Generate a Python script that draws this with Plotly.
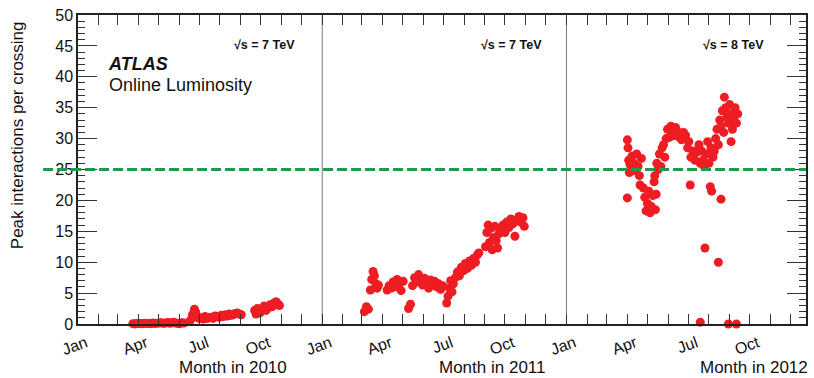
import plotly.graph_objects as go

# Peak pile-up per bunch crossing, ATLAS online luminosity, 2010-2012
dates_2010 = [
    "2010-03-24", "2010-03-27", "2010-03-30", "2010-04-02", "2010-04-05", "2010-04-08",
    "2010-04-11", "2010-04-14", "2010-04-17", "2010-04-20", "2010-04-23", "2010-04-26",
    "2010-04-29", "2010-05-03", "2010-05-06", "2010-05-09", "2010-05-12", "2010-05-15",
    "2010-05-18", "2010-05-21", "2010-05-24", "2010-05-27", "2010-05-30", "2010-06-02",
    "2010-06-05", "2010-06-08",
    "2010-06-18", "2010-06-21", "2010-06-24", "2010-06-26", "2010-06-28", "2010-07-01",
    "2010-07-04", "2010-07-07", "2010-07-10", "2010-07-13", "2010-07-16", "2010-07-19",
    "2010-07-22", "2010-07-25", "2010-07-28", "2010-07-31", "2010-08-03", "2010-08-06",
    "2010-08-09", "2010-08-12", "2010-08-15", "2010-08-18", "2010-08-21", "2010-08-24",
    "2010-08-27", "2010-08-30", "2010-09-02",
    "2010-09-22", "2010-09-24", "2010-09-26", "2010-09-28", "2010-09-30", "2010-10-03",
    "2010-10-06", "2010-10-09", "2010-10-12", "2010-10-15", "2010-10-18", "2010-10-21",
    "2010-10-24", "2010-10-27", "2010-10-29",
]
peak_2010 = [
    0.05, 0.02, 0.08, 0.05, 0.10, 0.05,
    0.12, 0.08, 0.10, 0.06, 0.15, 0.10,
    0.12, 0.15, 0.20, 0.10, 0.18, 0.25,
    0.12, 0.20, 0.30, 0.15, 0.10, 0.05,
    0.20, 0.15,
    0.6, 1.5, 2.4, 1.9, 1.1, 0.9,
    1.0, 0.8, 1.2, 0.9, 1.0, 1.1,
    0.9, 1.3, 1.2, 1.1, 1.4, 1.2,
    1.5, 1.3, 1.6, 1.4, 1.5, 1.7,
    1.8, 1.6, 1.5,
    2.2, 1.6, 2.5, 2.0, 1.8, 2.4,
    2.9, 2.2, 2.6, 3.1, 2.8, 3.4,
    3.6, 3.2, 3.0,
]

dates_2011 = [
    "2011-03-05", "2011-03-08", "2011-03-11",
    "2011-03-14", "2011-03-16", "2011-03-18", "2011-03-20", "2011-03-22", "2011-03-24",
    "2011-03-26",
    "2011-04-08", "2011-04-11", "2011-04-14", "2011-04-17", "2011-04-20", "2011-04-23",
    "2011-04-26", "2011-04-29", "2011-05-02",
    "2011-05-10", "2011-05-13",
    "2011-05-16", "2011-05-19", "2011-05-22", "2011-05-25", "2011-05-28", "2011-05-31",
    "2011-06-03", "2011-06-06", "2011-06-09", "2011-06-12", "2011-06-15", "2011-06-18",
    "2011-06-21", "2011-06-24", "2011-06-27", "2011-06-30",
    "2011-07-06", "2011-07-08", "2011-07-10", "2011-07-12", "2011-07-14", "2011-07-16",
    "2011-07-19", "2011-07-22", "2011-07-25", "2011-07-28", "2011-07-31", "2011-08-03",
    "2011-08-06", "2011-08-09", "2011-08-12", "2011-08-15", "2011-08-18", "2011-08-21",
    "2011-08-23",
    "2011-09-02", "2011-09-04", "2011-09-06", "2011-09-08", "2011-09-10", "2011-09-12",
    "2011-09-14", "2011-09-16", "2011-09-18", "2011-09-20", "2011-09-22",
    "2011-09-25", "2011-09-28", "2011-10-01", "2011-10-04", "2011-10-07", "2011-10-10",
    "2011-10-13", "2011-10-16", "2011-10-19", "2011-10-22", "2011-10-25", "2011-10-28",
    "2011-10-30",
]
peak_2011 = [
    2.0, 2.8, 2.4,
    5.5, 7.2, 8.5, 7.8, 6.5, 5.8,
    6.3,
    5.5, 6.2, 5.8, 6.8, 6.0, 7.2,
    6.5, 5.4, 6.9,
    2.5, 3.2,
    6.2, 7.5, 6.8, 8.0, 7.0, 6.3,
    7.4, 6.6, 5.8, 7.1, 6.4, 6.9,
    6.0, 6.5, 5.6, 6.2,
    3.4, 4.5, 5.8, 7.0, 5.2, 6.5,
    7.5, 8.4, 7.8, 9.2, 8.6, 9.8,
    9.0, 10.2, 9.5, 10.6, 10.0, 11.2,
    11.5,
    12.5, 14.8, 16.0, 13.2, 15.5, 12.0,
    14.0, 15.8, 13.5, 12.3, 14.6,
    15.2, 16.0, 14.8, 16.5, 15.6, 17.0,
    16.2, 14.2, 16.8, 17.4, 16.5, 17.2,
    15.8,
]

dates_2012 = [
    "2012-04-01", "2012-04-02", "2012-04-01", "2012-04-03", "2012-04-04", "2012-04-05",
    "2012-04-08", "2012-04-11", "2012-04-13", "2012-04-15", "2012-04-17", "2012-04-19",
    "2012-04-20", "2012-04-22", "2012-04-25", "2012-04-27", "2012-04-29", "2012-05-01",
    "2012-05-03", "2012-05-05", "2012-05-07", "2012-05-09", "2012-05-11", "2012-05-13",
    "2012-05-14", "2012-05-12", "2012-05-15", "2012-05-17", "2012-05-19", "2012-05-21",
    "2012-05-23", "2012-05-25", "2012-05-27", "2012-05-29", "2012-05-31", "2012-06-03",
    "2012-06-05", "2012-06-08", "2012-06-10", "2012-06-12", "2012-06-15", "2012-06-18",
    "2012-06-21", "2012-06-24", "2012-06-27", "2012-06-30", "2012-07-02", "2012-07-04",
    "2012-07-05", "2012-07-08", "2012-07-11", "2012-07-14", "2012-07-17", "2012-07-19",
    "2012-07-19", "2012-07-21", "2012-07-23", "2012-07-25", "2012-07-26", "2012-07-28",
    "2012-07-30", "2012-08-01", "2012-08-03", "2012-08-04", "2012-08-05", "2012-08-07",
    "2012-08-09", "2012-08-11", "2012-08-13", "2012-08-15", "2012-08-15", "2012-08-17",
    "2012-08-19", "2012-08-19", "2012-08-21", "2012-08-23", "2012-08-24", "2012-08-26",
    "2012-08-28", "2012-08-30", "2012-08-30", "2012-09-01", "2012-09-03", "2012-09-03",
    "2012-09-05", "2012-09-07", "2012-09-09", "2012-09-11", "2012-09-11", "2012-09-13",
]
peak_2012 = [
    29.8, 28.5, 20.4, 26.5, 24.5, 25.8,
    27.2, 26.0, 24.8, 27.5, 25.5, 24.0,
    22.5, 26.8, 22.0, 20.5, 18.3, 19.5,
    21.5, 18.0, 19.0, 20.8, 23.0, 18.5,
    21.0, 24.0, 26.0, 25.0, 27.5, 25.5,
    28.5, 29.0, 27.0, 30.0, 31.5, 30.2,
    32.0, 31.0, 30.5, 31.8, 31.2, 30.2,
    29.8, 31.0, 30.5, 28.5, 29.5, 22.5,
    27.0, 28.0, 26.5, 27.8, 29.0, 26.0,
    0.3, 28.0, 26.5, 25.5, 12.3, 27.5,
    29.5, 26.0, 22.2, 28.5, 21.5, 27.0,
    28.0, 30.0, 31.5, 10.0, 29.0, 33.0,
    20.2, 32.0, 34.5, 31.0, 36.7, 35.0,
    33.5, 0.0, 32.5, 35.5, 29.5, 34.0,
    31.5, 33.0, 35.0, 0.0, 32.5, 34.0,
]

energies = ["7", "7", "8"]
year_starts = ["2011-01-01", "2012-01-01"]
design_mu = 25

FONT = "Liberation Sans, Arial, sans-serif"
RED = "#ee1c23"
GREEN = "#1f9a4b"

fig = go.Figure()
for dates, peak in [(dates_2010, peak_2010), (dates_2011, peak_2011), (dates_2012, peak_2012)]:
    fig.add_trace(go.Scatter(
        x=dates, y=peak, mode="markers",
        marker=dict(color=RED, size=9, line=dict(width=0)),
        cliponaxis=False, showlegend=False,
    ))

# year separators
for ys in year_starts:
    fig.add_shape(type="line", xref="x", yref="paper", x0=ys, x1=ys, y0=0, y1=1,
                  line=dict(color="#7a7a7a", width=1), layer="below")

# design pile-up reference line
fig.add_shape(type="line", xref="paper", yref="y", x0=-0.048, x1=1.0,
              y0=design_mu, y1=design_mu,
              line=dict(color=GREEN, width=3, dash="10px,4px"), layer="above")

annotations = [
    dict(text="<b><i>ATLAS</i></b>", x=0.039, y=0.843, xanchor="left", yanchor="middle",
         font=dict(size=18, color="#111")),
    dict(text="Online Luminosity", x=0.040, y=0.772, xanchor="left", yanchor="middle",
         font=dict(size=18, color="#111")),
    dict(text="Peak interactions per crossing", x=-0.082, y=0.612, textangle=-90,
         xanchor="center", yanchor="middle", font=dict(size=17, color="#111")),
]
for xr, e in zip([0.211, 0.5507, 0.856], energies):
    annotations.append(dict(text=f"<b>√s = {e} TeV</b>", x=xr, y=0.903,
                            xanchor="left", yanchor="middle",
                            font=dict(size=12.5, color="#111")))
for xr, yr in zip([0.2904, 0.6438, 1.0055], ["2010", "2011", "2012"]):
    annotations.append(dict(text=f"Month in {yr}", x=xr, y=-0.142,
                            xanchor="right", yanchor="middle",
                            font=dict(size=17, color="#111")))
for a in annotations:
    a.update(xref="paper", yref="paper", showarrow=False)

fig.update_layout(
    width=814, height=378,
    margin=dict(l=78, r=6, t=15, b=54),
    paper_bgcolor="white", plot_bgcolor="white",
    font=dict(family=FONT, color="#111"),
    showlegend=False,
    annotations=annotations,
    xaxis=dict(
        type="date", range=["2010-01-01", "2012-12-24"],
        tick0="2010-01-01", dtick="M3", tickformat="%b",
        ticks="inside", ticklen=10, tickcolor="#333", tickwidth=1,
        showline=True, linecolor="#222", linewidth=1.5, mirror="ticks",
        showgrid=False, zeroline=False,
        tickangle=-20, tickfont=dict(size=16, family=FONT, color="#111"),
        ticklabelshift=8, ticklabelstandoff=2,
        minor=dict(dtick="M1", tick0="2010-01-01", ticks="inside", ticklen=10,
                   tickcolor="#333", tickwidth=1, showgrid=False),
    ),
    yaxis=dict(
        range=[0, 50], dtick=5, tick0=0,
        ticks="inside", ticklen=19, tickcolor="#333", tickwidth=1,
        showline=True, linecolor="#222", linewidth=1.5, mirror="ticks",
        showgrid=False, zeroline=False,
        tickfont=dict(size=16, family=FONT, color="#111"),
        minor=dict(dtick=1, ticks="inside", ticklen=7, tickcolor="#333",
                   tickwidth=1, showgrid=False),
    ),
)

fig.write_html("out.html")
